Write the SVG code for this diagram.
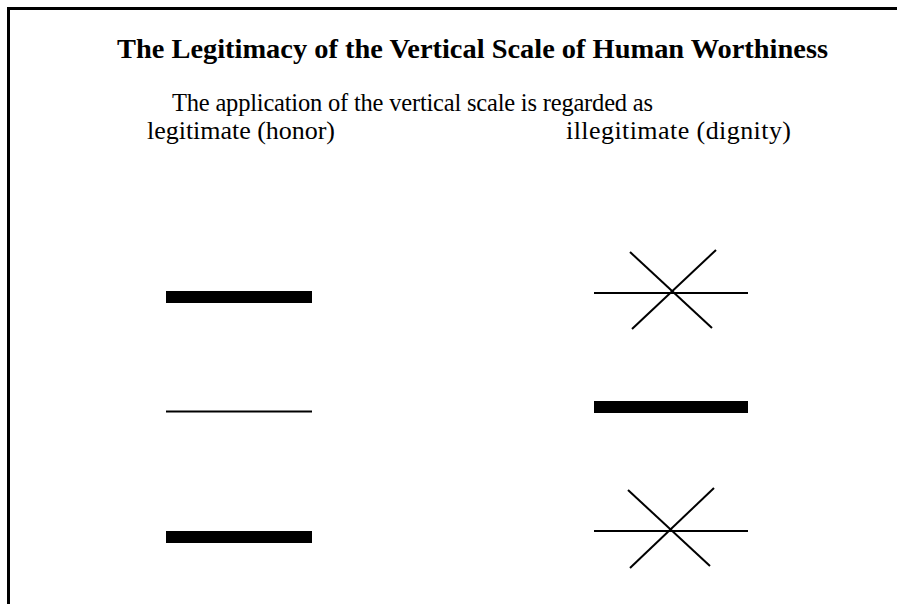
<svg xmlns="http://www.w3.org/2000/svg" width="897" height="604" viewBox="0 0 897 604">
<style>
text{font-family:"Liberation Serif","Times New Roman",serif;fill:#000}
.title{font-size:28px;font-weight:bold}
.sub{font-size:26px}
.sub1{font-size:24.5px}
.thick{fill:#000}
.thin{stroke:#000;stroke-width:2;fill:none}
</style>
<rect width="897" height="604" fill="#fff"/>
<g id="frame"><path d="M8.5,604 V8.5 H897" fill="none" stroke="#000" stroke-width="3"/></g>
<g id="title"><text class="title" x="117" y="58" textLength="711" lengthAdjust="spacingAndGlyphs">The Legitimacy of the Vertical Scale of Human Worthiness</text></g>
<g id="subtitle">
<text class="sub1" x="172" y="111" textLength="481">The application of the vertical scale is regarded as</text>
<text class="sub" x="147" y="139" textLength="188">legitimate (honor)</text>
<text class="sub" x="566" y="139" textLength="225">illegitimate (dignity)</text>
</g>
<g id="left-top"><rect class="thick" x="166" y="291" width="146" height="12"/></g>
<g id="left-mid"><line class="thin" x1="166" y1="411.5" x2="312" y2="411.5"/></g>
<g id="left-bottom"><rect class="thick" x="166" y="531" width="146" height="12"/></g>
<g id="right-top">
<line class="thin" x1="594" y1="293" x2="748" y2="293"/>
<line class="thin" x1="630" y1="252" x2="712" y2="328"/>
<line class="thin" x1="716" y1="250" x2="632" y2="329"/>
</g>
<g id="right-mid"><rect class="thick" x="594" y="401" width="154" height="12"/></g>
<g id="right-bottom">
<line class="thin" x1="594" y1="531" x2="748" y2="531"/>
<line class="thin" x1="628" y1="490" x2="710" y2="566"/>
<line class="thin" x1="714" y1="488" x2="630" y2="568"/>
</g>
</svg>
